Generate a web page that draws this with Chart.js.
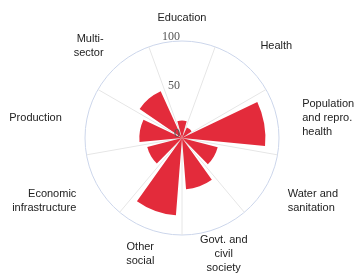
<!DOCTYPE html>
<html>
<head>
<meta charset="utf-8">
<script src="https://cdn.jsdelivr.net/npm/chart.js@4.4.0/dist/chart.umd.min.js"></script>
<style>
  html, body { margin: 0; padding: 0; background: #fff; }
  #wrap { width: 358px; height: 274px; position: relative; }
</style>
</head>
<body>
<div id="wrap"><canvas id="chart"></canvas></div>
<script>
// sectors clockwise from the top
const sectors = [
  'Education',
  'Health',
  ['Population', 'and repro.', 'health'],
  ['Water and', 'sanitation'],
  ['Govt. and', 'civil', 'society'],
  ['Other', 'social'],
  ['Economic', 'infrastructure'],
  'Production',
  ['Multi-', 'sector'],
];
const shares = [18, 12, 86, 38, 53, 80, 37, 44, 53];
const tickValues = [0, 50, 100];

const GAP = 4.5 * Math.PI / 180;
const LABEL_DIST = 25;
const LINE_H = 14;

// narrow each wedge a bit so there is white space around the angle lines
const wedgeGapPlugin = {
  id: 'wedgeGap',
  afterDatasetsUpdate(chart) {
    chart.getDatasetMeta(0).data.forEach((arc) => {
      arc.startAngle += GAP;
      arc.endAngle -= GAP;
    });
  },
};

// radial tick labels sit just above the tick, left of the vertical axis
const tickLabelPlugin = {
  id: 'tickLabels',
  afterDraw(chart) {
    const r = chart.scales.r;
    const c = chart.ctx;
    c.save();
    c.font = '12px "Liberation Serif", serif';
    c.fillStyle = '#555';
    c.textAlign = 'right';
    c.textBaseline = 'alphabetic';
    r.ticks.forEach((t) => {
      const d = r.getDistanceFromCenterForValue(t.value);
      c.fillText(String(t.value), r.xCenter - 2, r.yCenter - d - 1);
    });
    c.restore();
  },
};

// sector names centred on their wedge, block centred on the anchor point
const sectorLabelPlugin = {
  id: 'sectorLabels',
  afterDraw(chart) {
    const r = chart.scales.r;
    const c = chart.ctx;
    const half = Math.PI / sectors.length;
    c.save();
    c.font = '11px "Liberation Sans", Arial, sans-serif';
    c.fillStyle = '#222';
    c.textBaseline = 'middle';
    sectors.forEach((lab, i) => {
      const p = r.getPointPosition(i, r.drawingArea + LABEL_DIST, half);
      const lines = Array.isArray(lab) ? lab : [lab];
      const s = (p.x - r.xCenter) / (r.drawingArea + LABEL_DIST);
      c.textAlign = s > 0.5 ? 'left' : (s < -0.5 ? 'right' : 'center');
      const y0 = p.y + 1.5 - (lines.length - 1) * LINE_H / 2;
      lines.forEach((ln, k) => c.fillText(ln, p.x, y0 + k * LINE_H));
    });
    c.restore();
  },
};

new Chart(document.getElementById('chart'), {
  type: 'polarArea',
  data: {
    labels: sectors,
    datasets: [{
      data: shares,
      backgroundColor: '#e32b3b',
      borderWidth: 0,
    }],
  },
  options: {
    responsive: true,
    maintainAspectRatio: false,
    animation: false,
    events: [],
    layout: { padding: { top: 41, bottom: 39, left: 6, right: 0 } },
    plugins: {
      legend: { display: false },
      tooltip: { enabled: false },
    },
    scales: {
      r: {
        min: 0,
        max: 100,
        startAngle: -20,
        afterBuildTicks: (s) => { s.ticks = tickValues.map((v) => ({ value: v })); },
        ticks: { display: false, stepSize: 50 },
        grid: {
          circular: true,
          color: (ctx) => (ctx.tick && ctx.tick.value === 100 ? '#ccd6eb' : 'rgba(0,0,0,0)'),
        },
        angleLines: { display: true, color: '#e6e6e6' },
        pointLabels: { display: false },
      },
    },
  },
  plugins: [wedgeGapPlugin, tickLabelPlugin, sectorLabelPlugin],
});
</script>
</body>
</html>
